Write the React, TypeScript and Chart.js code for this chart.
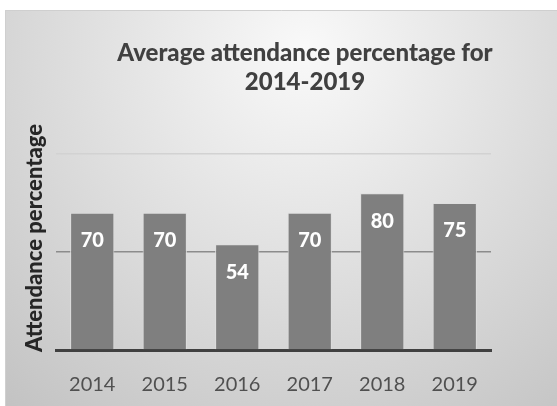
import React, { useEffect, useRef } from "react";
import { Chart, registerables } from "chart.js";

Chart.register(...registerables);

const years = ["2014", "2015", "2016", "2017", "2018", "2019"];
const attendance = [70, 70, 54, 70, 80, 75];
const titleLines = ["Average attendance percentage for", "2014-2019"];
const yTitle = "Attendance percentage";
const yMin = 0;
const yMax = 100;
const yStep = 50;

export default function App() {
  const ref = useRef<HTMLCanvasElement>(null);

  useEffect(() => {
    if (!ref.current) return;

    const bg = {
      id: "bg",
      beforeDraw(chart: any) {
        const { ctx, width, height } = chart;
        ctx.save();
        const g = ctx.createRadialGradient(300, 40, 0, 300, 40, 470);
        g.addColorStop(0, "#f9f9f9");
        g.addColorStop(1, "#c2c2c2");
        ctx.fillStyle = g;
        ctx.fillRect(0, 0, width, height);
        ctx.strokeStyle = "#cfcfcf";
        ctx.lineWidth = 1;
        ctx.beginPath();
        ctx.moveTo(0.5, height);
        ctx.lineTo(0.5, 0.5);
        ctx.lineTo(width, 0.5);
        ctx.stroke();
        ctx.restore();
      },
    };

    const barLabels = {
      id: "barLabels",
      afterDatasetsDraw(chart: any) {
        const { ctx } = chart;
        const meta = chart.getDatasetMeta(0);
        ctx.save();
        ctx.fillStyle = "#ffffff";
        ctx.font = "900 20px Lato";
        ctx.textAlign = "center";
        ctx.textBaseline = "middle";
        meta.data.forEach((el: any, i: number) => {
          ctx.fillText(String(attendance[i]), el.x, el.y + 28);
        });
        ctx.restore();
      },
    };

    const texts = {
      id: "texts",
      afterDraw(chart: any) {
        const { ctx } = chart;
        ctx.save();
        ctx.fillStyle = "#404040";
        ctx.font = "900 24px Lato";
        ctx.textAlign = "center";
        ctx.textBaseline = "middle";
        ctx.fillText(titleLines[0], 300, 43);
        ctx.fillText(titleLines[1], 300, 72);
        ctx.translate(30, 228);
        ctx.rotate(-Math.PI / 2);
        ctx.fillStyle = "#262626";
        ctx.font = "900 22px Lato";
        ctx.fillText(yTitle, 0, 0);
        ctx.restore();
      },
    };

    const chart = new Chart(ref.current, {
      type: "bar",
      data: {
        labels: years,
        datasets: [
          {
            data: attendance,
            backgroundColor: "#7f7f7f",
            borderColor: "#dedede",
            borderWidth: 1,
            barPercentage: 0.61,
            categoryPercentage: 1,
          },
        ],
      },
      options: {
        responsive: false,
        animation: false,
        devicePixelRatio: 1,
        layout: { padding: { left: 0, right: 66, top: 144, bottom: 0 } },
        plugins: {
          legend: { display: false },
          title: { display: false },
          tooltip: { enabled: false },
        },
        scales: {
          x: {
            grid: { display: false },
            border: { display: true, color: "#404040", width: 3 },
            ticks: {
              color: "#505050",
              font: { family: "Lato", size: 20 },
              padding: 15,
            },
            afterFit(s: any) {
              s.height = 56;
            },
          },
          y: {
            min: yMin,
            max: yMax,
            ticks: { display: false, stepSize: yStep },
            grid: {
              drawTicks: false,
              lineWidth: 1.5,
              color: (c: any) => (c.tick && c.tick.value === 50 ? "#8c8c8c" : "#d2d2d2"),
            },
            border: { display: false },
            afterFit(s: any) {
              s.width = 51;
            },
          },
        },
      },
      plugins: [bg, barLabels, texts],
    });

    return () => chart.destroy();
  }, []);

  return (
    <div style={{ position: "absolute", left: 5, top: 10, width: 552, height: 396 }}>
      <canvas ref={ref} width={552} height={396} style={{ display: "block" }} />
    </div>
  );
}
